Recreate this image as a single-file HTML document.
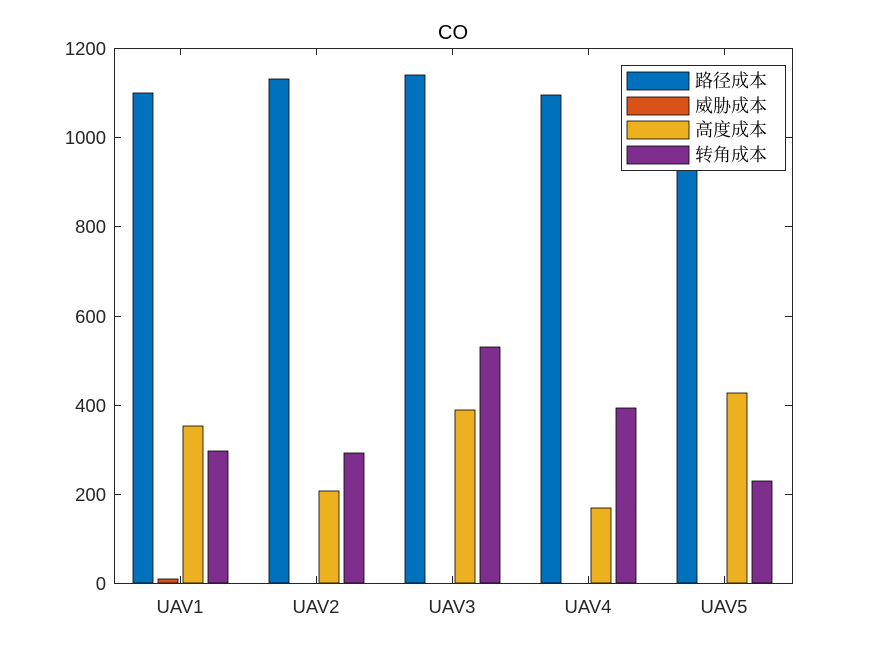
<!DOCTYPE html>
<html><head><meta charset="utf-8"><style>body{margin:0;background:#fff}svg{display:block}</style></head><body>
<svg width="875" height="656" xmlns="http://www.w3.org/2000/svg" font-family="Liberation Sans, sans-serif">
<rect width="875" height="656" fill="#fff"/>
<g stroke="#000" stroke-width="0.8">
<rect x="133" y="93" width="20" height="490" fill="#0072BD"/>
<rect x="158" y="579" width="20" height="4" fill="#D95319"/>
<rect x="183" y="426" width="20" height="157" fill="#EDB120"/>
<rect x="208" y="451" width="20" height="132" fill="#7E2F8E"/>
<rect x="269" y="79" width="20" height="504" fill="#0072BD"/>
<rect x="319" y="491" width="20" height="92" fill="#EDB120"/>
<rect x="344" y="453" width="20" height="130" fill="#7E2F8E"/>
<rect x="405" y="75" width="20" height="508" fill="#0072BD"/>
<rect x="455" y="410" width="20" height="173" fill="#EDB120"/>
<rect x="480" y="347" width="20" height="236" fill="#7E2F8E"/>
<rect x="541" y="95" width="20" height="488" fill="#0072BD"/>
<rect x="591" y="508" width="20" height="75" fill="#EDB120"/>
<rect x="616" y="408" width="20" height="175" fill="#7E2F8E"/>
<rect x="677" y="102" width="20" height="481" fill="#0072BD"/>
<rect x="727" y="393" width="20" height="190" fill="#EDB120"/>
<rect x="752" y="481" width="20" height="102" fill="#7E2F8E"/>
</g>
<g stroke="#262626" stroke-width="1" fill="none">
<rect x="114.5" y="48.5" width="678" height="535"/>
<path d="M114 583.5h7M114 494.5h7M114 405.5h7M114 316.5h7M114 226.5h7M114 137.5h7M114 48.5h7
M792 583.5h-7M792 494.5h-7M792 405.5h-7M792 316.5h-7M792 226.5h-7M792 137.5h-7M792 48.5h-7
M180.5 583v-7M316.5 583v-7M452.5 583v-7M588.5 583v-7M724.5 583v-7
M180.5 48v7M316.5 48v7M452.5 48v7M588.5 48v7M724.5 48v7"/>
</g>
<g font-size="18.5" fill="#262626" text-anchor="end">
<text x="106" y="590">0</text><text x="106" y="501">200</text><text x="106" y="412">400</text>
<text x="106" y="323">600</text><text x="106" y="233">800</text><text x="106" y="144">1000</text><text x="106" y="55">1200</text>
</g>
<g font-size="18.5" fill="#262626" text-anchor="middle">
<text x="180" y="613">UAV1</text><text x="316" y="613">UAV2</text><text x="452" y="613">UAV3</text>
<text x="588" y="613">UAV4</text><text x="724" y="613">UAV5</text>
<text x="453" y="39" font-size="20" fill="#000">CO</text>
</g>
<rect x="621.5" y="65.5" width="164" height="105" fill="#fff" stroke="#262626" stroke-width="1"/>
<g stroke="#000" stroke-width="0.8">
<rect x="627" y="72" width="62" height="18" fill="#0072BD"/>
<rect x="627" y="97" width="62" height="18" fill="#D95319"/>
<rect x="627" y="121" width="62" height="18" fill="#EDB120"/>
<rect x="627" y="146" width="62" height="18" fill="#7E2F8E"/>
</g>
<g font-family="Noto Serif CJK SC, serif" font-size="18" fill="#000">
<text x="695" y="87">路径成本</text><text x="695" y="112">威胁成本</text>
<text x="695" y="136">高度成本</text><text x="695" y="161">转角成本</text>
</g>
</svg>
</body></html>
